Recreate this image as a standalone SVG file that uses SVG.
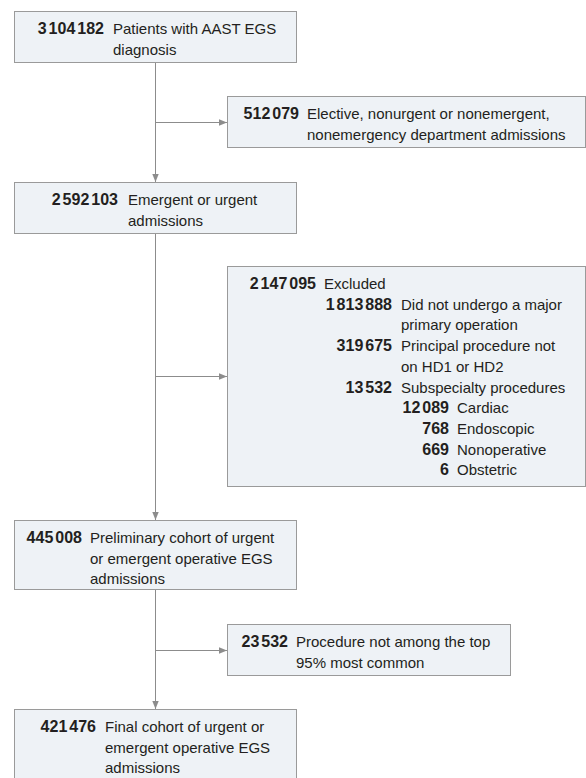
<svg xmlns="http://www.w3.org/2000/svg" width="586" height="778" viewBox="0 0 586 778">
<style>
.box{fill:#eef2f6;stroke:#9a9a9a;stroke-width:1}
.t{font-family:"Liberation Sans",Arial,sans-serif;font-size:15px;fill:#231f20}
.n{font-family:"Liberation Sans",Arial,sans-serif;font-size:16px;font-weight:bold;fill:#231f20;text-anchor:end}
.ln{stroke:#8c8c8c;stroke-width:1;fill:none}
</style>
<defs>
<marker id="ah" viewBox="0 0 8 8" refX="8" refY="4" markerWidth="8" markerHeight="8" markerUnits="userSpaceOnUse" orient="auto">
<path d="M0,0.8 L8,4 L0,7.2 Z" fill="#8c8c8c"/>
</marker>
</defs>
<g id="connectors">
<line class="ln" x1="155.5" y1="63" x2="155.5" y2="182" marker-end="url(#ah)"/>
<line class="ln" x1="155.5" y1="122.5" x2="227" y2="122.5" marker-end="url(#ah)"/>
<line class="ln" x1="155.5" y1="234" x2="155.5" y2="520" marker-end="url(#ah)"/>
<line class="ln" x1="155.5" y1="376.5" x2="227" y2="376.5" marker-end="url(#ah)"/>
<line class="ln" x1="155.5" y1="590" x2="155.5" y2="709" marker-end="url(#ah)"/>
<line class="ln" x1="155.5" y1="650.5" x2="227" y2="650.5" marker-end="url(#ah)"/>
</g>
<g id="n1">
<rect class="box" x="14.5" y="11.5" width="282" height="51"/>
<text class="n" x="104" y="34">3<tspan dx="2">104</tspan><tspan dx="2">182</tspan></text>
<text class="t" x="113" y="34">Patients with AAST EGS</text>
<text class="t" x="113" y="54.5">diagnosis</text>
</g>
<g id="n2">
<rect class="box" x="227.5" y="96.5" width="358" height="51"/>
<text class="n" x="299" y="119">512<tspan dx="2">079</tspan></text>
<text class="t" x="307" y="119">Elective, nonurgent or nonemergent,</text>
<text class="t" x="307" y="139.5">nonemergency department admissions</text>
</g>
<g id="n3">
<rect class="box" x="14.5" y="182.5" width="282" height="51"/>
<text class="n" x="118" y="205">2<tspan dx="2">592</tspan><tspan dx="2">103</tspan></text>
<text class="t" x="128" y="205">Emergent or urgent</text>
<text class="t" x="128" y="225.5">admissions</text>
</g>
<g id="n4">
<rect class="box" x="227.5" y="266.5" width="358" height="220"/>
<text class="n" x="316" y="289">2<tspan dx="2">147</tspan><tspan dx="2">095</tspan></text>
<text class="t" x="324" y="289">Excluded</text>
<text class="n" x="392" y="309.7">1<tspan dx="2">813</tspan><tspan dx="2">888</tspan></text>
<text class="t" x="401" y="309.7">Did not undergo a major</text>
<text class="t" x="401" y="330.4">primary operation</text>
<text class="n" x="392" y="351.1">319<tspan dx="2">675</tspan></text>
<text class="t" x="401" y="351.1">Principal procedure not</text>
<text class="t" x="401" y="371.8">on HD1 or HD2</text>
<text class="n" x="392" y="392.5">13<tspan dx="2">532</tspan></text>
<text class="t" x="401" y="392.5">Subspecialty procedures</text>
<text class="n" x="449" y="413.2">12<tspan dx="2">089</tspan></text>
<text class="t" x="457" y="413.2">Cardiac</text>
<text class="n" x="449" y="433.9">768</text>
<text class="t" x="457" y="433.9">Endoscopic</text>
<text class="n" x="449" y="454.6">669</text>
<text class="t" x="457" y="454.6">Nonoperative</text>
<text class="n" x="449" y="475.3">6</text>
<text class="t" x="457" y="475.3">Obstetric</text>
</g>
<g id="n5">
<rect class="box" x="14.5" y="520.5" width="282" height="69"/>
<text class="n" x="82" y="543">445<tspan dx="2">008</tspan></text>
<text class="t" x="90" y="543">Preliminary cohort of urgent</text>
<text class="t" x="90" y="563.5">or emergent operative EGS</text>
<text class="t" x="90" y="584">admissions</text>
</g>
<g id="n6">
<rect class="box" x="227.5" y="624.5" width="283" height="51"/>
<text class="n" x="288" y="647">23<tspan dx="2">532</tspan></text>
<text class="t" x="296" y="647">Procedure not among the top</text>
<text class="t" x="296" y="667.5">95% most common</text>
</g>
<g id="n7">
<rect class="box" x="14.5" y="709.5" width="282" height="80"/>
<text class="n" x="96" y="732">421<tspan dx="2">476</tspan></text>
<text class="t" x="105" y="732">Final cohort of urgent or</text>
<text class="t" x="105" y="752.5">emergent operative EGS</text>
<text class="t" x="105" y="773">admissions</text>
</g>
</svg>
